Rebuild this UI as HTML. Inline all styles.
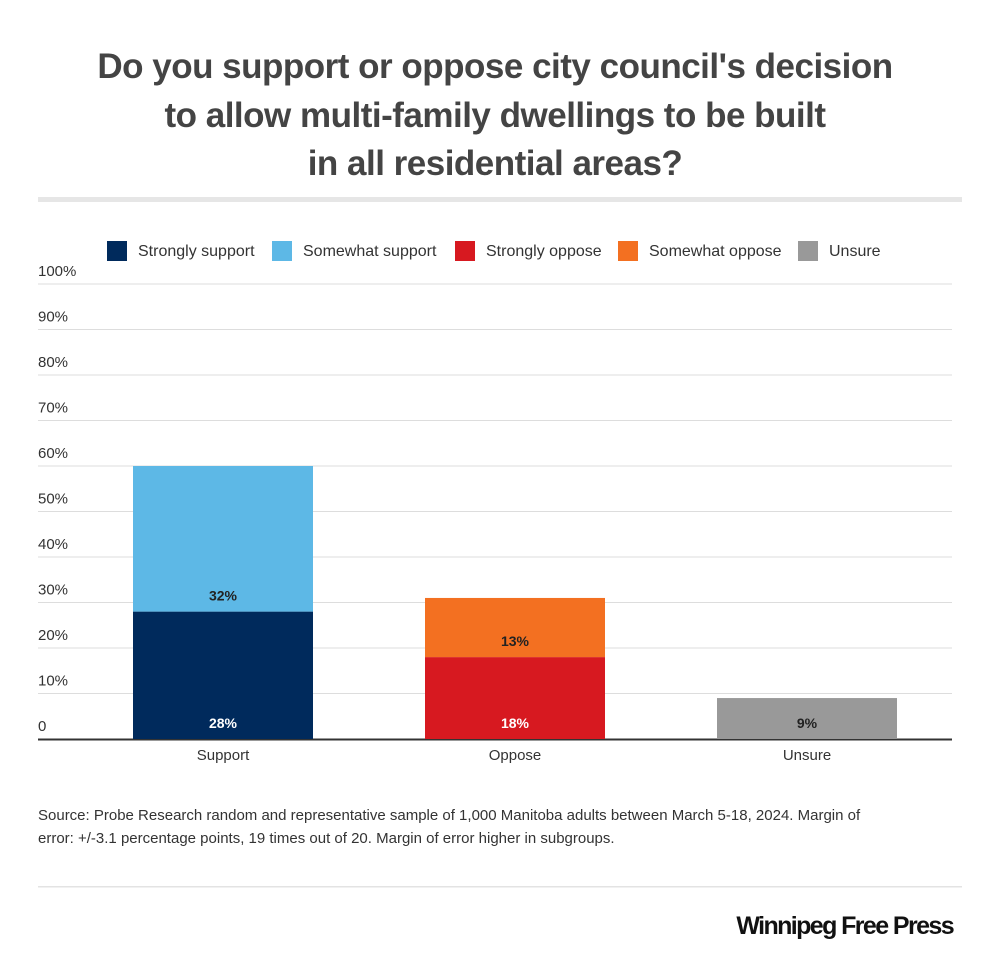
<!DOCTYPE html>
<html><head><meta charset="utf-8"><style>
body{margin:0;background:#fff;width:1000px;height:966px;overflow:hidden;font-family:"Liberation Sans",sans-serif}
</style></head><body>
<svg width="1000" height="966" xmlns="http://www.w3.org/2000/svg">
<g font-size="35" font-weight="bold" fill="#444" text-anchor="middle" letter-spacing="-0.5">
<text x="495" y="78">Do you support or oppose city council's decision</text>
<text x="495" y="127">to allow multi-family dwellings to be built</text>
<text x="495" y="175">in all residential areas?</text>
</g>
<rect x="38" y="197" width="924" height="5" fill="#e6e6e6"/>
<g id="legend" font-size="16" fill="#333"></g>
<g id="grid"></g>
<g id="bars"></g>
<g font-size="15" fill="#333">
<text x="38" y="820">Source: Probe Research random and representative sample of 1,000 Manitoba adults between March 5-18, 2024. Margin of</text>
<text x="38" y="843">error: +/-3.1 percentage points, 19 times out of 20. Margin of error higher in subgroups.</text>
</g>
<rect x="38" y="886" width="924" height="1.5" fill="#e3e3e3"/>
<text x="953" y="934" text-anchor="end" font-size="25" font-weight="bold" fill="#111" letter-spacing="-1.6">Winnipeg Free Press</text>
</svg>
<script>
const categories=["Support","Oppose","Unsure"];
const seriesNames=["Strongly support","Somewhat support","Strongly oppose","Somewhat oppose","Unsure"];
const seriesColors=["#002a5c","#5db8e6","#d71920","#f37021","#999999"];
const strongly=[28,18,9];
const somewhat=[32,13,0];
const yTicks=[0,10,20,30,40,50,60,70,80,90,100];
const NS="http://www.w3.org/2000/svg";
const y0=739,pxPer=4.55;
const Y=v=>y0-v*pxPer;
function mk(tag,attrs,parent,txt){const e=document.createElementNS(NS,tag);for(const k in attrs)e.setAttribute(k,attrs[k]);if(txt!==undefined)e.textContent=txt;parent.appendChild(e);return e;}
const grid=document.getElementById('grid');
yTicks.forEach(t=>{
  const l=mk('rect',{x:38,y:Y(t)-0.5,width:914,height:t===0?2:1,fill:t===0?'#333':'#ddd'},grid);
  
  
  const tx=mk('text',{x:38,y:Y(t)-8,'font-size':15,fill:'#333'},grid,t===0?'0':t+'%');
  
  
});
const leg=document.getElementById('legend');
const legX=[107,272,455,618,798];
seriesNames.forEach((n,i)=>{
  const r=mk('rect',{x:legX[i],y:241,width:20,height:20,fill:seriesColors[i]},leg);
  
  
  const t=mk('text',{x:legX[i]+31,y:256},leg,n);
  
  
});
const bars=document.getElementById('bars');
const barX=[133,425,717],bw=180;
categories.forEach((c,i)=>{
  const lowC=i===2?seriesColors[4]:seriesColors[i===0?0:2];
  const upC=seriesColors[i===0?1:3];
  const r1=mk('rect',{x:barX[i],y:Y(strongly[i]),width:bw,height:strongly[i]*pxPer,fill:lowC},bars);
  
  
  const l1=mk('text',{x:barX[i]+bw/2,y:y0-11,'text-anchor':'middle','font-size':14,'font-weight':'bold',fill:i===2?'#222':'#fff'},bars,strongly[i]+'%');
  
  
  if(somewhat[i]>0){
    const r2=mk('rect',{x:barX[i],y:Y(strongly[i]+somewhat[i]),width:bw,height:somewhat[i]*pxPer,fill:upC},bars);
    
    
    const l2=mk('text',{x:barX[i]+bw/2,y:Y(strongly[i])-11,'text-anchor':'middle','font-size':14,'font-weight':'bold',fill:'#222'},bars,somewhat[i]+'%');
    
    
  }
  const cl=mk('text',{x:barX[i]+bw/2,y:760,'text-anchor':'middle','font-size':15,fill:'#333'},bars,c);
  
  
});
</script>
</body></html>
